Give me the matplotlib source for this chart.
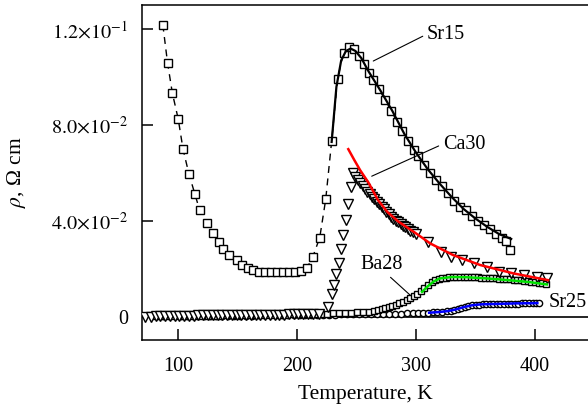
import matplotlib
matplotlib.use("Agg")
import matplotlib.pyplot as plt

plt.rcParams['font.family'] = ['Liberation Serif', 'DejaVu Serif']
plt.rcParams['mathtext.fontset'] = 'stix'

# Sr15 (open squares, dashed)
sr15_T = [87, 91, 95, 100, 104, 109, 114, 118, 124, 129, 134, 138, 143, 149, 154, 159,
          163, 168, 173, 178, 183, 188, 193, 198, 203, 208, 213, 219, 224, 229, 234, 239,
          244, 248, 252, 256, 260, 264, 269, 274, 279, 284, 288, 293, 298, 302, 307, 312,
          317, 322, 327, 332, 337, 342, 347, 352, 357, 362, 367, 372, 376, 379]
sr15_rho = [12.2, 10.6, 9.35, 8.25, 7.0, 5.96, 5.12, 4.45, 3.9, 3.48, 3.13, 2.85, 2.58, 2.37,
            2.16, 2.02, 1.95, 1.88, 1.86, 1.85, 1.85, 1.85, 1.86, 1.88, 1.92, 2.02, 2.48,
            3.31, 4.9, 7.33, 9.95, 11.02, 11.25, 11.2, 10.9, 10.55, 10.2, 9.9, 9.5, 9.05,
            8.6, 8.15, 7.75, 7.35, 6.95, 6.7, 6.35, 6.0, 5.72, 5.45, 5.15, 4.85, 4.6, 4.45,
            4.2, 4.02, 3.82, 3.65, 3.45, 3.28, 3.18, 2.78]
sr15_fit_T = [229, 233, 237, 241, 245, 249, 254, 260, 270, 280, 290, 300, 310, 320, 330,
              340, 350, 360, 370, 380]
sr15_fit_rho = [7.3, 9.6, 10.7, 11.1, 11.2, 11.1, 10.8, 10.25, 9.45, 8.6, 7.65, 6.85, 6.15,
                5.55, 5.0, 4.5, 4.1, 3.75, 3.45, 3.25]

# Ca30 (open down triangles)
ca30_T = [72, 77, 81, 85, 89, 93, 97, 101, 105, 109, 113, 117, 121, 125, 129, 133, 137,
          141, 145, 149, 153, 157, 161, 165, 169, 173, 177, 181, 185, 189, 193, 197, 201,
          205, 209, 213, 218, 226, 229, 231, 233, 235, 236.6, 238.8, 240.8, 242.5, 245,
          247, 249, 251, 253, 255, 257, 259, 261, 263, 265, 267, 269, 271, 273, 275, 277,
          279, 281, 283, 285, 287, 289, 291, 293, 295, 297, 300, 310, 321, 329, 339, 349,
          360, 370, 380, 391, 402, 410]
ca30_rho = [-0.03, -0.02, 0.03, 0.03, 0.04, 0.04, 0.04, 0.05, 0.05, 0.05, 0.05, 0.06, 0.06,
            0.06, 0.06, 0.07, 0.07, 0.07, 0.07, 0.07, 0.08, 0.08, 0.08, 0.08, 0.08, 0.09,
            0.09, 0.09, 0.09, 0.09, 0.10, 0.10, 0.10, 0.10, 0.10, 0.11, 0.11, 0.42, 0.95,
            1.32, 1.78, 2.23, 2.81, 3.41, 4.04, 4.73, 5.4, 6.0, 5.85, 5.72, 5.6, 5.47, 5.35,
            5.22, 5.12, 5.0, 4.9, 4.8, 4.7, 4.6, 4.48, 4.38, 4.28, 4.18, 4.1, 4.02, 3.95,
            3.88, 3.8, 3.73, 3.66, 3.6, 3.52, 3.45, 3.13, 2.71, 2.5, 2.36, 2.23, 2.09, 1.88,
            1.82, 1.74, 1.67, 1.6]
ca30_fit_T = [243, 248, 253, 260, 268, 276, 285, 298, 312, 331, 354, 382, 411]
ca30_fit_rho = [7.0, 6.55, 6.12, 5.6, 4.87, 4.37, 3.98, 3.55, 3.06, 2.58, 2.16, 1.81, 1.53]

# Ba28 (squares, dense)
ba28_T = [80, 85, 90, 95, 100, 105, 110, 115, 120, 125, 130, 135, 140, 145, 150, 155, 160,
          165, 170, 175, 180, 185, 190, 195, 200, 205, 210, 215, 220, 225, 230, 235, 240,
          245, 250, 255, 260, 265, 268, 271, 274, 277, 280, 283, 286, 289, 292, 295, 298,
          301, 304, 307, 310, 313, 316, 319, 322, 325, 328, 331, 334, 337, 340, 343, 346,
          349, 352, 355, 358, 361, 364, 367, 370, 373, 376, 379, 382, 385, 388, 391, 394,
          397, 400, 403, 406, 409]
ba28_rho = [0.03, 0.03, 0.03, 0.04, 0.04, 0.04, 0.04, 0.05, 0.05, 0.05, 0.05, 0.05, 0.06,
            0.06, 0.06, 0.06, 0.07, 0.07, 0.08, 0.08, 0.08, 0.09, 0.09, 0.10, 0.10, 0.11,
            0.11, 0.12, 0.12, 0.13, 0.14, 0.15, 0.16, 0.17, 0.18, 0.2, 0.22, 0.25, 0.28,
            0.31, 0.35, 0.4, 0.45, 0.5, 0.56, 0.62, 0.7, 0.78, 0.87, 0.97, 1.08, 1.21, 1.34,
            1.45, 1.53, 1.58, 1.62, 1.64, 1.66, 1.67, 1.67, 1.67, 1.67, 1.66, 1.66, 1.65,
            1.65, 1.64, 1.63, 1.62, 1.61, 1.6, 1.59, 1.58, 1.57, 1.56, 1.55, 1.54, 1.52,
            1.5, 1.49, 1.47, 1.45, 1.43, 1.41, 1.38]
ba28_fit_T = [305, 310, 315, 320, 330, 343, 360, 380, 395, 410]
ba28_fit_rho = [1.04, 1.28, 1.48, 1.6, 1.66, 1.65, 1.6, 1.52, 1.45, 1.35]

# Sr25 (open circles, dense)
sr25_T = [82, 87, 92, 97, 102, 107, 112, 117, 122, 127, 132, 137, 142, 147, 152, 157, 162,
          167, 172, 177, 182, 187, 192, 197, 202, 207, 212, 217, 222, 227, 232, 237, 242,
          247, 252, 257, 262, 267, 272, 277, 282, 287, 292, 297, 302, 306, 310, 314, 318,
          322, 326, 329, 332, 335, 338, 341, 344, 347, 350, 353, 356, 359, 362, 365, 368,
          371, 374, 377, 380, 383, 386, 389, 392, 395, 398, 401, 403]
sr25_rho = [0.02, 0.02, 0.02, 0.03, 0.03, 0.03, 0.03, 0.03, 0.04, 0.04, 0.04, 0.04, 0.04,
            0.05, 0.05, 0.05, 0.05, 0.06, 0.06, 0.06, 0.06, 0.07, 0.07, 0.07, 0.07, 0.08,
            0.08, 0.08, 0.09, 0.09, 0.09, 0.1, 0.1, 0.1, 0.11, 0.11, 0.11, 0.12, 0.12, 0.12,
            0.13, 0.13, 0.14, 0.14, 0.15, 0.16, 0.17, 0.18, 0.19, 0.2, 0.23, 0.26, 0.29,
            0.33, 0.37, 0.41, 0.45, 0.48, 0.5, 0.51, 0.52, 0.52, 0.53, 0.53, 0.53, 0.54,
            0.54, 0.54, 0.55, 0.55, 0.55, 0.56, 0.56, 0.56, 0.57, 0.57, 0.57]
sr25_fit_T = [311, 320, 327, 333, 340, 347, 355, 370, 385, 402]
sr25_fit_rho = [0.17, 0.2, 0.24, 0.3, 0.4, 0.48, 0.52, 0.54, 0.56, 0.57]

yticks = [0.0, 0.04, 0.08, 0.12]
ytick_labels = ['0', r'$4.0{\times}10^{-2}$', r'$8.0{\times}10^{-2}$', r'$1.2{\times}10^{-1}$']
xticks = [100, 200, 300, 400]


def scale(vals):
    return [v * 1e-2 for v in vals]


fig = plt.figure(figsize=(5.88, 4.07), dpi=100)
ax = fig.add_axes([142 / 588, 67 / 407, 446 / 588, 335 / 407])

ax.axhline(0, color='black', lw=1.2, zorder=1)

mk = dict(mfc='white', mec='black', mew=1.0)
ax.plot(sr15_T, scale(sr15_rho), color='black', lw=1.0, ls=(0, (5, 4)),
        marker='s', ms=6, zorder=3, **mk)
ax.plot(sr15_fit_T, scale(sr15_fit_rho), color='black', lw=1.6, zorder=4)

ax.plot(sr25_T, scale(sr25_rho), ls='none', marker='o', ms=4.5, zorder=3, **mk)
ax.plot(ba28_T, scale(ba28_rho), ls='none', marker='s', ms=4.5, zorder=3, **mk)
ax.plot(ca30_T, scale(ca30_rho), ls='none', marker='v', ms=6.5, zorder=3, **mk)

ax.plot(ca30_fit_T, scale(ca30_fit_rho), color='#ff0000', lw=1.8, zorder=5)
ax.plot(ba28_fit_T, scale(ba28_fit_rho), color='#00e000', lw=1.8, zorder=5)
ax.plot(sr25_fit_T, scale(sr25_fit_rho), color='#0000ff', lw=1.8, zorder=5)

ax.set_xlim(69.5, 444.6)
ax.set_ylim(-0.0097, 0.1302)
ax.set_xticks(xticks)
ax.set_xticklabels([str(t) for t in xticks])
ax.set_yticks(yticks)
ax.set_yticklabels(ytick_labels)
ax.tick_params(direction='in', length=8, width=1.1, labelsize=14.5, top=False, right=False)
ax.tick_params(axis='x', pad=12)
ax.tick_params(axis='y', pad=10)
ax.spines['right'].set_visible(False)
for s in ['left', 'bottom', 'top']:
    ax.spines[s].set_linewidth(1.1)

ax.set_xlabel('Temperature, K', fontsize=15.5, labelpad=7)
ax.set_ylabel(r'$\rho$, Ω cm', fontsize=15.5, labelpad=17)

lead = dict(arrowstyle='-', color='black', lw=0.8, shrinkA=1, shrinkB=0)
ax.annotate('Sr15', xy=(264, 0.1068), xytext=(309, 0.118), fontsize=14.5,
            ha='left', va='center', arrowprops=dict(relpos=(0, 0.5), **lead))
ax.annotate('Ca30', xy=(262.7, 0.0587), xytext=(322.4, 0.0721), fontsize=14.5,
            ha='left', va='center', arrowprops=dict(relpos=(0, 0.5), **lead))
ax.annotate('Ba28', xy=(294.9, 0.0091), xytext=(270.8, 0.022), fontsize=14.5,
            ha='center', va='center', arrowprops=dict(relpos=(0.62, 0), **lead))
ax.text(411.2, 0.0059, 'Sr25', fontsize=14.5, ha='left', va='center')

fig.savefig('out.png', dpi=100)
